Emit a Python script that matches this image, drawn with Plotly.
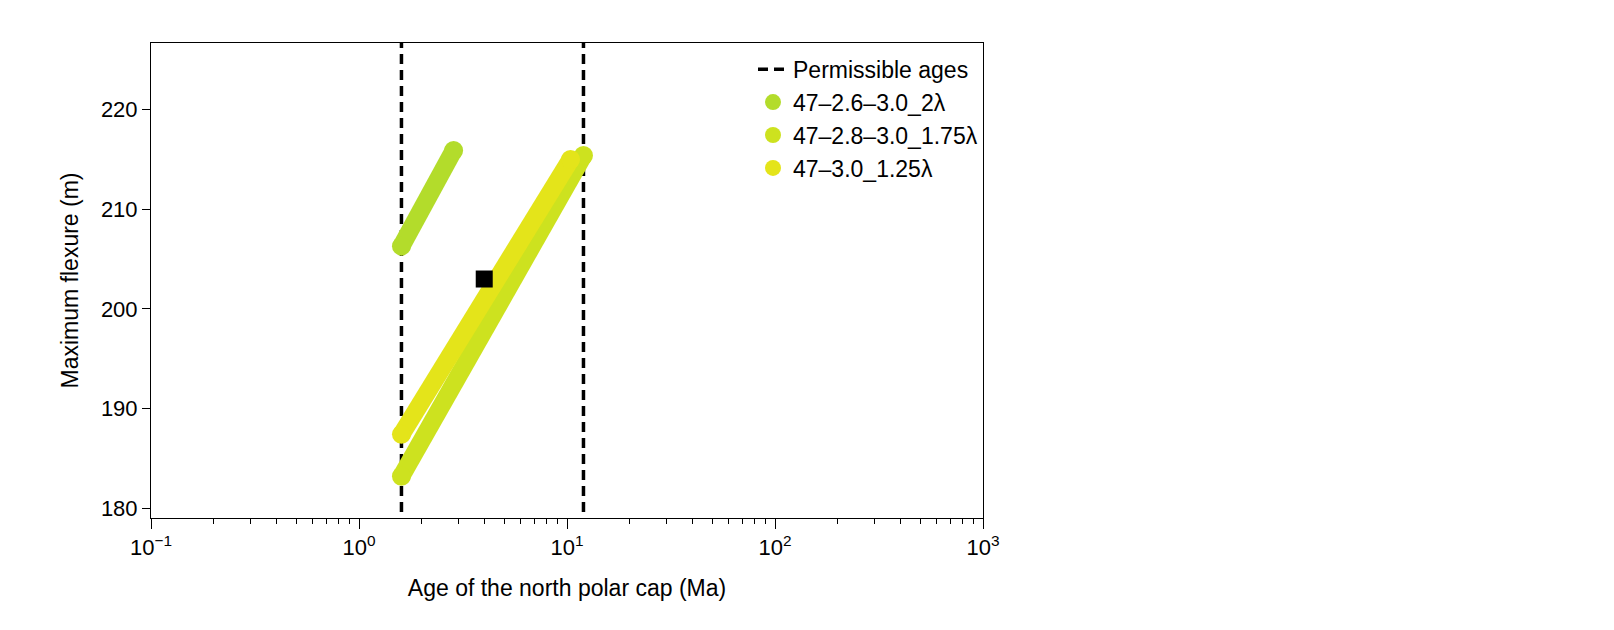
import plotly.graph_objects as go

perm_ages = [1.6, 12]
s1_x = [1.6, 2.85]; s1_y = [206.3, 215.9]
s2_x = [1.6, 12.0]; s2_y = [183.2, 215.4]
s3_x = [1.6, 10.4]; s3_y = [187.4, 215.0]
sq_x = [4.0]; sq_y = [203.0]
names = ["47–2.6–3.0_2λ", "47–2.8–3.0_1.75λ", "47–3.0_1.25λ"]
colors = ["#b3dc2b", "#cde21f", "#e4e41a"]
xticks = [0.1, 1, 10, 100, 1000]
xticktext = ["10<sup>−1</sup>", "10<sup>0</sup>", "10<sup>1</sup>", "10<sup>2</sup>", "10<sup>3</sup>"]
minor_vals = [m * d for d in [0.1, 1, 10, 100] for m in range(2, 10)]

fig = go.Figure()
fig.add_trace(go.Scatter(x=[perm_ages[0]]*2, y=[178, 228], mode="lines",
    line=dict(color="black", dash="10px,6px", width=3.5), name="Permissible ages"))
fig.add_trace(go.Scatter(x=[perm_ages[1]]*2, y=[178, 228], mode="lines",
    line=dict(color="black", dash="10px,6px", width=3.5), showlegend=False))
for xs, ys, n, c in [(s2_x, s2_y, names[1], colors[1]), (s3_x, s3_y, names[2], colors[2]), (s1_x, s1_y, names[0], colors[0])]:
    fig.add_trace(go.Scatter(x=xs, y=ys, mode="lines+markers", name=n,
        line=dict(color=c, width=18), marker=dict(color=c, size=19), showlegend=False))
for n, c in zip(names, colors):
    fig.add_trace(go.Scatter(x=[None], y=[None], mode="markers", name=n,
        marker=dict(color=c, size=18)))
fig.add_trace(go.Scatter(x=sq_x, y=sq_y, mode="markers", showlegend=False,
    marker=dict(symbol="square", color="black", size=17)))

fig.update_layout(
    width=1614, height=630, plot_bgcolor="white", paper_bgcolor="white",
    font=dict(family="Liberation Sans, Arial", size=22, color="black"),
    margin=dict(l=143, r=639, t=35, b=120, autoexpand=False),
    legend=dict(x=1.0, y=0.99, xanchor="right", yanchor="top", bgcolor="rgba(0,0,0,0)",
                font=dict(size=23), tracegroupgap=4),
)
fig.update_xaxes(type="log", range=[-1, 3], tickvals=xticks, ticktext=xticktext,
    showgrid=False, showline=True, linecolor="black", mirror=True, ticks="outside",
    ticklen=10, tickcolor="black", zeroline=False,
    minor=dict(tickvals=minor_vals, ticks="outside", ticklen=5, tickcolor="black", showgrid=False),
    title=dict(text="Age of the north polar cap (Ma)", standoff=20, font=dict(size=23)))
fig.update_yaxes(range=[179, 226.7], tickvals=[180, 190, 200, 210, 220],
    showgrid=False, showline=True, linecolor="black", mirror=True, ticks="outside",
    ticklen=8, tickcolor="black", zeroline=False,
    title=dict(text="Maximum flexure (m)", standoff=15, font=dict(size=23)))
fig.write_html("out.html")
